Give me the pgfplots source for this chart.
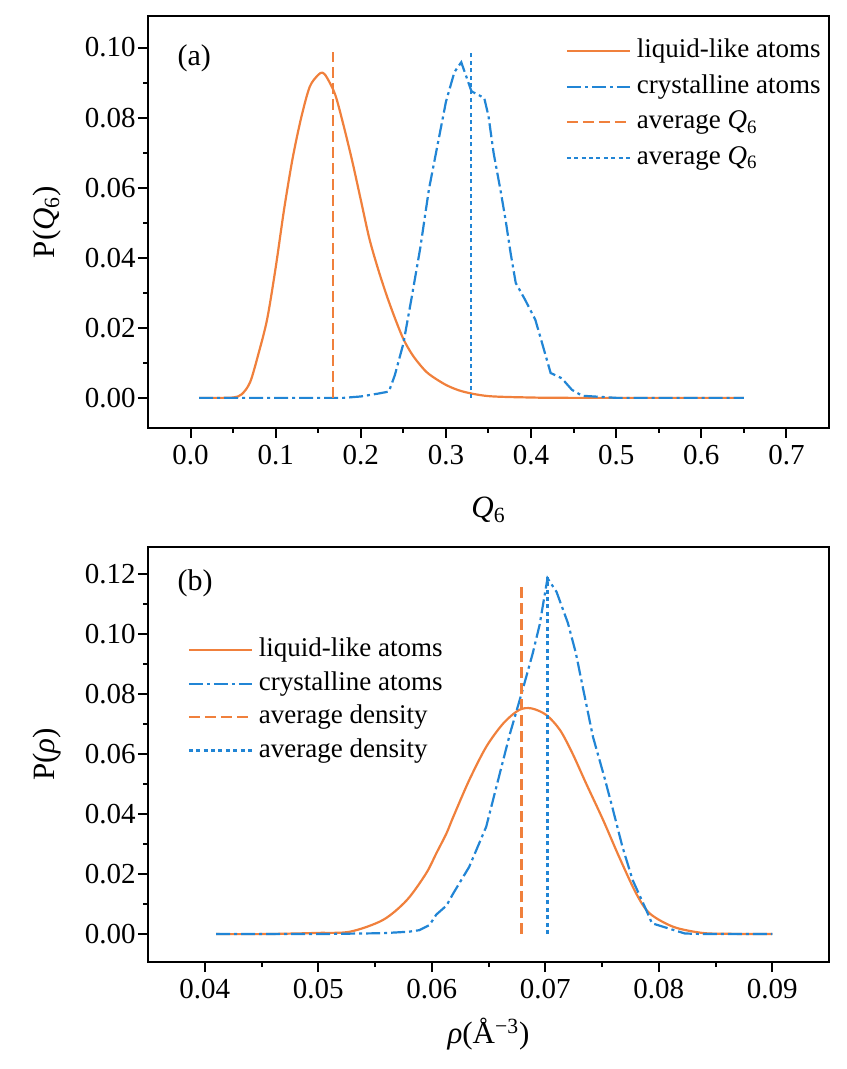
\documentclass[border=0pt]{standalone}
\usepackage{fontspec}
\setmainfont{Liberation Serif}
\usepackage{pgfplots}
\pgfplotsset{compat=1.18}
\definecolor{orng}{RGB}{240,128,60}
\definecolor{blu}{RGB}{33,133,213}

\pgfplotsset{
  panel/.style={
    scale only axis,
    anchor=south west,
    axis line style={line width=1.1pt},
    every tick/.style={line width=1pt,black},
    tick align=outside,
    xtick pos=bottom, ytick pos=left,
    major tick length=5pt, minor tick length=2.5pt,
    minor x tick num=1, minor y tick num=1,
    scaled ticks=false,
    tick label style={font=\fontsize{14.5}{14.5}\selectfont},
    yticklabel style={inner sep=1pt},
    /pgf/number format/assume math mode=true,
    every axis y label/.style={at={(axis description cs:-0.148,0.5)},rotate=90,anchor=center,
      font=\fontsize{15.5}{15.5}\selectfont},
    legend cell align=left,
    legend image code/.code={\draw[##1,line width=1.1pt] (0pt,0pt) -- (31.5pt,0pt);},
    legend style={draw=none,fill=none,font=\fontsize{13.5}{13.5}\selectfont,
      anchor=north west,column sep=3pt,
      nodes={inner sep=0pt,text height=10pt,text depth=3.5pt}},
  },
  liq/.style={orng,line width=1.1pt},
  cry/.style={blu,line width=1.1pt,dash pattern=on 7pt off 2pt on 1.5pt off 2pt},
  avgo/.style={orng,line width=1.1pt,dash pattern=on 5.5pt off 2.5pt},
  avgb/.style={blu,line width=1.1pt,dash pattern=on 2pt off 1.7pt},
}

\begin{document}
\begin{tikzpicture}
\path[use as bounding box] (0,0) rectangle (423pt,534.5pt);

% (a) Q6 distribution
\begin{axis}[panel,
  at={(74pt,320.5pt)}, width=340.5pt, height=206pt,
  xmin=-0.05, xmax=0.75, ymin=-0.0086, ymax=0.109,
  xtick={0,0.1,0.2,0.3,0.4,0.5,0.6,0.7},
  ytick={0,0.02,0.04,0.06,0.08,0.1},
  xticklabel style={/pgf/number format/.cd,fixed,fixed zerofill,precision=1},
  yticklabel style={/pgf/number format/.cd,fixed,fixed zerofill,precision=2},
  xlabel={\textit{Q}\textsubscript{6}},
  every axis x label/.style={at={(axis description cs:0.5,-0.1675)},anchor=north,inner sep=0pt,
    font=\fontsize{15.5}{15.5}\selectfont},
  ylabel={P(\textit{Q}\textsubscript{6})},
  legend style={at={(0.604,0.9575)},row sep=4.25pt},
]
\addplot[liq,smooth] coordinates {
 (0.01,0) (0.03,0) (0.05,0.0001) (0.06,0.001) (0.07,0.0045) (0.08,0.0128)
 (0.09,0.0225) (0.10,0.0372) (0.11,0.054) (0.12,0.0685) (0.13,0.080)
 (0.14,0.0888) (0.15,0.0922) (0.155,0.0928) (0.16,0.0915) (0.17,0.0865)
 (0.18,0.0775) (0.19,0.0675) (0.20,0.0565) (0.21,0.0455) (0.22,0.037)
 (0.23,0.0295) (0.24,0.0228) (0.25,0.0168) (0.26,0.0125) (0.27,0.0093)
 (0.28,0.0068) (0.30,0.0037) (0.32,0.0018) (0.35,0.0005) (0.40,0.0001)
 (0.45,0) (0.65,0)
};
\addlegendentry{liquid-like atoms}
\addplot[cry] coordinates {
 (0.01,0) (0.18,0) (0.20,0.0004) (0.22,0.0012) (0.233,0.0018) (0.24,0.0065)
 (0.25,0.0155) (0.26,0.029) (0.27,0.043) (0.28,0.0595) (0.29,0.072)
 (0.30,0.0845) (0.31,0.093) (0.318,0.0958) (0.33,0.0875) (0.345,0.0856)
 (0.35,0.0804) (0.356,0.0699) (0.364,0.0594) (0.370,0.0509) (0.376,0.0413)
 (0.382,0.0328) (0.393,0.028) (0.405,0.0223) (0.413,0.0156) (0.423,0.0071)
 (0.436,0.0056) (0.448,0.0023) (0.46,0.0006) (0.48,0.0003) (0.50,0) (0.65,0)
};
\addlegendentry{crystalline atoms}
\addplot[avgo] coordinates {(0.1675,0) (0.1675,0.0986)};
\addlegendentry{average \textit{Q}\textsubscript{6}}
\addplot[avgb] coordinates {(0.3295,0) (0.3295,0.0986)};
\addlegendentry{average \textit{Q}\textsubscript{6}}
\node[anchor=west,font=\fontsize{15}{15}\selectfont] at (axis description cs:0.033,0.898) {(a)};
\end{axis}

% (b) density distribution
\begin{axis}[panel,
  at={(74pt,53.5pt)}, width=340.5pt, height=207.5pt,
  xmin=0.035, xmax=0.095, ymin=-0.0093, ymax=0.129,
  xtick={0.04,0.05,0.06,0.07,0.08,0.09},
  ytick={0,0.02,0.04,0.06,0.08,0.1,0.12},
  xticklabel style={/pgf/number format/.cd,fixed,fixed zerofill,precision=2},
  yticklabel style={/pgf/number format/.cd,fixed,fixed zerofill,precision=2},
  xlabel={\textit{ρ}(Å\textsuperscript{−3})},
  every axis x label/.style={at={(axis description cs:0.5,-0.135)},anchor=north,inner sep=0pt,
    font=\fontsize{15.5}{15.5}\selectfont},
  ylabel={P(\textit{ρ})},
  legend style={at={(0.049,0.794)},row sep=3.2pt},
]
\addplot[liq,smooth] coordinates {
 (0.041,0) (0.045,0) (0.048,0.0002) (0.050,0.0004) (0.0528,0.0008)
 (0.0557,0.0047) (0.0578,0.0113) (0.0595,0.0202) (0.0604,0.0269)
 (0.0613,0.0336) (0.0619,0.0391) (0.0633,0.0513) (0.0648,0.0624)
 (0.0663,0.0702) (0.0677,0.0747) (0.0688,0.0752) (0.0701,0.0730)
 (0.0713,0.0680) (0.0724,0.0602) (0.0736,0.0502) (0.0751,0.0380)
 (0.0765,0.0258) (0.0780,0.0136) (0.0792,0.0069) (0.0813,0.0024)
 (0.0838,0.0004) (0.086,0.0001) (0.090,0)
};
\addlegendentry{liquid-like atoms}
\addplot[cry] coordinates {
 (0.041,0) (0.050,0) (0.0557,0.0003) (0.058,0.0008) (0.0589,0.0013)
 (0.0598,0.003) (0.0604,0.0065) (0.0613,0.0095) (0.0619,0.0136)
 (0.0633,0.0224) (0.0648,0.0358) (0.0660,0.0536) (0.0669,0.0669)
 (0.0680,0.0813) (0.0689,0.0936) (0.0695,0.1030) (0.0702,0.1186)
 (0.0710,0.1140) (0.0720,0.1036) (0.0727,0.0936) (0.0733,0.0824)
 (0.0742,0.0658) (0.0752,0.0524) (0.0759,0.0424) (0.0768,0.0291)
 (0.0777,0.0180) (0.0789,0.0080) (0.0794,0.0036) (0.0823,0.0002)
 (0.084,0) (0.090,0)
};
\addlegendentry{crystalline atoms}
\addplot[avgo] coordinates {(0.0679,0) (0.0679,0.1158)};
\addlegendentry{average density}
\addplot[avgb] coordinates {(0.0702,0) (0.0702,0.119)};
\addlegendentry{average density}
\node[anchor=west,font=\fontsize{15}{15}\selectfont] at (axis description cs:0.033,0.913) {(b)};
\end{axis}
\end{tikzpicture}
\end{document}
